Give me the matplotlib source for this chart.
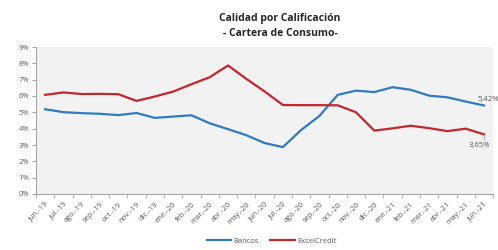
import matplotlib.pyplot as plt
import numpy as np
from matplotlib.ticker import FixedLocator

plt.rcParams['font.family'] = ['Open Sans', 'DejaVu Sans']

# meses (jun-19 .. jun-21)
meses = ['jun.-19', 'jul.-19', 'ago.-19', 'sep.-19', 'oct.-19', 'nov.-19', 'dic.-19',
         'ene.-20', 'feb.-20', 'mar.-20', 'abr.-20', 'may.-20', 'jun.-20', 'jul.-20',
         'ago.-20', 'sep.-20', 'oct.-20', 'nov.-20', 'dic.-20', 'ene.-21', 'feb.-21',
         'mar.-21', 'abr.-21', 'may.-21', 'jun.-21']

# indice de calidad por calificacion (%)
bancos = [5.19, 5.01, 4.95, 4.91, 4.83, 4.96, 4.66, 4.74, 4.82, 4.33, 3.97, 3.60, 3.12,
          2.87, 3.92, 4.78, 6.07, 6.33, 6.24, 6.54, 6.38, 6.02, 5.92, 5.66, 5.42]
excelcredit = [6.07, 6.22, 6.12, 6.13, 6.11, 5.70, 5.97, 6.27, 6.72, 7.15, 7.87, 7.05, 6.28,
               5.45, 5.44, 5.44, 5.43, 5.00, 3.88, 4.02, 4.18, 4.03, 3.85, 4.00, 3.65]

azul = '#2E7BC4'
rojo = '#C1272D'
gris = '#595959'

fig = plt.figure(figsize=(4.98, 2.5), dpi=100)
ax = fig.add_axes([0.0723, 0.224, 0.918, 0.588])
ax.set_facecolor('#F2F2F2')

x = np.arange(len(meses))
ax.plot(x, bancos, color=azul, lw=1.6, label='Bancos')
ax.plot(x, excelcredit, color=rojo, lw=1.6, label='ExcelCredit')

ax.set_xlim(-0.5, len(meses) - 0.5)
ax.set_ylim(0, 9)
ax.set_yticks(range(0, 10))
ax.set_yticklabels([f'{v}%' for v in range(0, 10)], fontsize=5.5, color=gris)

ax.set_xticks(x)
ax.set_xticklabels(meses, rotation=45, ha='right', va='top', fontsize=5.5, color=gris,
                   rotation_mode='anchor')
ax.tick_params(axis='x', length=0, pad=5)
ax.xaxis.set_minor_locator(FixedLocator(np.arange(-0.5, len(meses), 1)))
ax.tick_params(axis='x', which='minor', length=3, color='#A6A6A6')
ax.tick_params(axis='y', length=3, color='#A6A6A6', pad=2)

for s in ['top', 'right']:
    ax.spines[s].set_visible(False)
for s in ['left', 'bottom']:
    ax.spines[s].set_color('#A6A6A6')
    ax.spines[s].set_linewidth(0.8)

# etiquetas del ultimo dato
ax.text(x[-1] - 0.35, bancos[-1] + 0.15, '5,42%', fontsize=5.5, color=gris,
        ha='left', va='bottom')
ax.plot([x[-1], x[-1] + 0.05], [excelcredit[-1] - 0.05, excelcredit[-1] - 0.35],
        color='#A6A6A6', lw=0.6)
ax.text(x[-1] - 0.25, excelcredit[-1] - 0.45, '3,65%', fontsize=5.5, color=gris,
        ha='center', va='top')

fig.text(0.562, 0.925, 'Calidad por Calificación', fontsize=7.5, fontweight='bold',
         ha='center', va='center', color='#262626')
fig.text(0.562, 0.866, '- Cartera de Consumo-', fontsize=7.5, fontweight='bold',
         ha='center', va='center', color='#262626')

fig.legend(loc='center', bbox_to_anchor=(0.545, 0.035), ncol=2, frameon=False,
           fontsize=5.5, handlelength=3.2, columnspacing=1.5, handletextpad=0.3,
           labelcolor=gris)

fig.savefig('out.png', dpi=100)
